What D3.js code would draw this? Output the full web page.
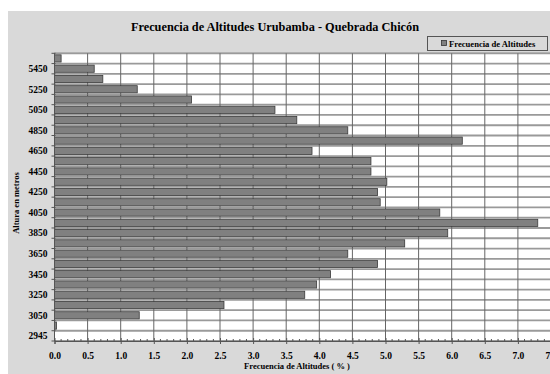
<!DOCTYPE html>
<html>
<head>
<meta charset="utf-8">
<script src="https://cdn.jsdelivr.net/npm/d3@7/dist/d3.min.js"></script>
<style>
  body { margin:0; background:#fff; }
  svg text { font-family:"Liberation Serif","Times New Roman",serif; font-weight:bold; fill:#000; }
</style>
</head>
<body>
<div id="chart"></div>
<script>
// altitudes (bottom -> top) and frequency (%)
const altitudes = ["2945","2950","3050","3150","3250","3350","3450","3550","3650","3750",
  "3850","3950","4050","4150","4250","4350","4450","4550","4650","4750",
  "4850","4950","5050","5150","5250","5350","5450","5550"];
const frequencies = [0.0,0.03,1.28,2.56,3.78,3.96,4.17,4.88,4.43,5.29,
  5.94,7.30,5.82,4.92,4.88,5.02,4.78,4.78,3.89,6.16,
  4.43,3.66,3.33,2.07,1.25,0.73,0.6,0.1];
const shownLabels = ["2945","3050","3250","3450","3650","3850","4050","4250","4450","4650","4850","5050","5250","5450"];
const xTicks = d3.range(0, 7.51, 0.5);

const W = 550, H = 374;
const m = {left:54.5, right:551, top:53.3, bottom:341};

const svg = d3.select("#chart").append("svg")
  .attr("width", W).attr("height", H);

// chart background
svg.append("rect").attr("x",8).attr("y",11).attr("width",W-8).attr("height",H-11)
  .attr("fill","#d9d9d9");

const data = altitudes.map((a,i) => ({alt:a, val:frequencies[i]}));

const x = d3.scaleLinear().domain([0,7.5]).range([m.left, m.right]);
const y = d3.scaleBand().domain(altitudes.slice().reverse())
  .range([m.top, m.bottom]).paddingInner(0.3).paddingOuter(0.15);
const step = y.step();

// plot area
svg.append("rect").attr("x",m.left).attr("y",m.top)
  .attr("width",m.right-m.left).attr("height",m.bottom-m.top)
  .attr("fill","#fff").attr("stroke","#888");

// horizontal grid at category boundaries
const bounds = d3.range(altitudes.length+1).map(i => m.top + i*step);
svg.append("g").selectAll("line").data(bounds).join("line")
  .attr("x1",m.left).attr("x2",m.right)
  .attr("y1",d=>d).attr("y2",d=>d)
  .attr("stroke","#9a9a9a").attr("stroke-width",1.8);

// vertical grid
svg.append("g").selectAll("line").data(xTicks.slice(1)).join("line")
  .attr("x1",d=>x(d)).attr("x2",d=>x(d))
  .attr("y1",m.top).attr("y2",m.bottom)
  .attr("stroke","#666").attr("stroke-width",1);

// bars
svg.append("g").selectAll("rect").data(data.filter(d=>d.val>0)).join("rect")
  .attr("x",x(0)).attr("y",d=>y(d.alt))
  .attr("width",d=>x(d.val)-x(0)).attr("height",y.bandwidth())
  .attr("fill","#808080").attr("stroke","#3a3a3a").attr("stroke-width",0.8);

// x axis
const xAxis = svg.append("g").attr("transform",`translate(0,${m.bottom})`)
  .call(d3.axisBottom(x).tickValues(xTicks).tickFormat(d3.format(".1f"))
    .tickSize(3).tickPadding(8));
xAxis.select(".domain").attr("stroke","#555");
xAxis.selectAll(".tick line").attr("stroke","#555").attr("y1",-3);
xAxis.selectAll("text").attr("font-size",9.5);
// minor ticks
svg.append("g").selectAll("line").data(d3.range(0,7.51,0.1).filter((d,i)=>i%5!==0)).join("line")
  .attr("x1",d=>x(d)).attr("x2",d=>x(d))
  .attr("y1",m.bottom-2).attr("y2",m.bottom)
  .attr("stroke","#555");

// y axis
svg.append("line").attr("x1",m.left).attr("x2",m.left)
  .attr("y1",m.top).attr("y2",m.bottom).attr("stroke","#555");
svg.append("g").selectAll("line").data(bounds).join("line")
  .attr("x1",m.left-3).attr("x2",m.left+1)
  .attr("y1",d=>d).attr("y2",d=>d).attr("stroke","#555");
svg.append("g").selectAll("text").data(shownLabels).join("text")
  .attr("x",m.left-7).attr("y",d=>y(d)+y.bandwidth()/2)
  .attr("dy","0.35em").attr("text-anchor","end")
  .attr("font-size",9.5).text(d=>d);

// titles
svg.append("text").attr("x",275).attr("y",31).attr("text-anchor","middle")
  .attr("font-size",12.3).text("Frecuencia de Altitudes Urubamba - Quebrada Chicón");
svg.append("text").attr("x",297).attr("y",369).attr("text-anchor","middle")
  .attr("font-size",8.5).text("Frecuencia de Altitudes ( % )");
svg.append("text").attr("transform","translate(19,203) rotate(-90)")
  .attr("text-anchor","middle").attr("font-size",8.5).text("Altura en metros");

// legend
const lg = svg.append("g");
lg.append("rect").attr("x",427.5).attr("y",36.5).attr("width",120).attr("height",14)
  .attr("fill","#d9d9d9").attr("stroke","#555");
lg.append("rect").attr("x",441.5).attr("y",40.5).attr("width",5).attr("height",5)
  .attr("fill","#808080").attr("stroke","#333").attr("stroke-width",0.8);
lg.append("text").attr("x",449).attr("y",46.5).attr("font-size",8.6)
  .text("Frecuencia de Altitudes");
</script>
</body>
</html>
